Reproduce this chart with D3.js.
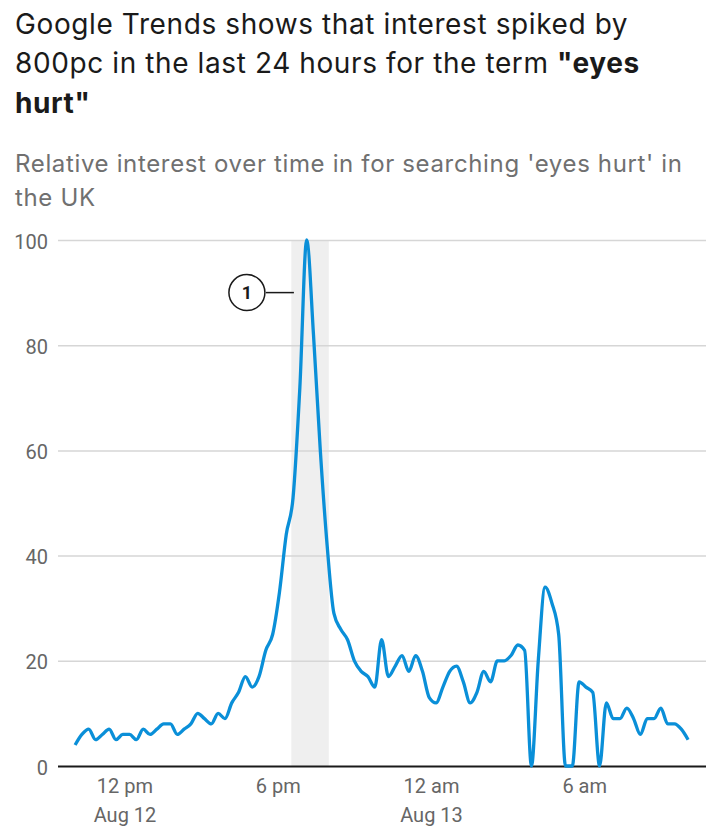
<!DOCTYPE html>
<html>
<head>
<meta charset="utf-8">
<script src="https://cdn.jsdelivr.net/npm/d3@7"></script>
<style>
  body { margin: 0; background: #fff; }
  svg { display: block; font-family: Roboto, sans-serif; }
</style>
</head>
<body>
<svg id="chart"></svg>
<script>
// Title and subtitle lines (bold parts flagged)
const titleLines = [
  [{ text: 'Google Trends shows that interest spiked by' }],
  [{ text: '800pc in the last 24 hours for the term ' }, { text: '"eyes', bold: true }],
  [{ text: 'hurt"', bold: true }]
];
const subtitleLines = [
  "Relative interest over time in for searching 'eyes hurt' in",
  'the UK'
];

// Google Trends series: one reading every 16 minutes from 10:04 am, Aug 12
const startTime = new Date(2021, 7, 12, 10, 4);
const stepMinutes = 16;
const interest = [
  4, 6, 7, 5, 6, 7, 5, 6, 6, 5,
  7, 6, 7, 8, 8, 6, 7, 8, 10, 9,
  8, 10, 9, 12, 14, 17, 15, 17, 22, 25,
  33, 44, 51, 72, 100, 82, 60, 42, 29, 26,
  24, 20, 18, 17, 15, 24, 17, 19, 21, 18,
  21, 18, 13, 12, 15, 18, 19, 16, 12, 14,
  18, 16, 20, 20, 21, 23, 22, 0, 20, 34,
  31, 25, 0, 0, 16, 15, 14, 0, 12, 9,
  9, 11, 9, 6, 9, 9, 11, 8, 8, 7,
  5
];

const yTicks = [0, 20, 40, 60, 80, 100];
const xTicks = [
  { time: new Date(2021, 7, 12, 12, 0), label: '12 pm', date: 'Aug 12' },
  { time: new Date(2021, 7, 12, 18, 0), label: '6 pm', date: '' },
  { time: new Date(2021, 7, 13, 0, 0), label: '12 am', date: 'Aug 13' },
  { time: new Date(2021, 7, 13, 6, 0), label: '6 am', date: '' }
];

// Highlighted period and its numbered marker
const highlight = [new Date(2021, 7, 12, 18, 32), new Date(2021, 7, 12, 20, 0)];
const annotations = [{ time: new Date(2021, 7, 12, 18, 38), value: 90, label: '1' }];

const data = interest.map((v, i) => ({
  time: new Date(startTime.getTime() + i * stepMinutes * 60000),
  value: v
}));

const width = 720, height = 838;
const svg = d3.select('#chart').attr('width', width).attr('height', height);

// Headline
svg.append('g').selectAll('text')
  .data(titleLines)
  .join('text')
  .attr('x', 15)
  .attr('y', (d, i) => 33.5 + i * 39.5)
  .attr('fill', '#1a1a1a')
  .style('font-family', 'Inter, sans-serif')
  .style('font-size', '28px')
  .style('letter-spacing', '0.6px')
  .selectAll('tspan')
  .data(d => d)
  .join('tspan')
  .style('font-weight', d => d.bold ? 700 : 400)
  .text(d => d.text);

svg.append('g').selectAll('text')
  .data(subtitleLines)
  .join('text')
  .attr('x', 15)
  .attr('y', (d, i) => 172 + i * 33.5)
  .attr('fill', '#707070')
  .style('font-family', 'Inter, sans-serif')
  .style('font-size', '24px')
  .style('letter-spacing', '0.65px')
  .text(d => d);

// Scales
const plot = { left: 58, right: 706, top: 240, bottom: 766 };

const x = d3.scaleTime()
  .domain(d3.extent(data, d => d.time))
  .range([75.1, 688.1]);

const y = d3.scaleLinear()
  .domain([0, 100])
  .range([plot.bottom, plot.top]);

// Highlight band
svg.append('rect')
  .attr('x', x(highlight[0]))
  .attr('y', y(100))
  .attr('width', x(highlight[1]) - x(highlight[0]))
  .attr('height', y(0) - y(100))
  .attr('fill', '#efefef');

// Y axis with gridlines
const yAxis = svg.append('g')
  .attr('transform', `translate(${plot.left},0)`)
  .call(d3.axisLeft(y).tickValues(yTicks).tickSize(-(plot.right - plot.left)).tickPadding(10));
yAxis.select('.domain').remove();
yAxis.selectAll('.tick line')
  .attr('stroke', d => d === 0 ? '#1a1a1a' : '#d6d6d6')
  .attr('stroke-width', d => d === 0 ? 2 : 1.5);
yAxis.selectAll('.tick text')
  .attr('fill', '#666')
  .attr('dy', '0.4em')
  .style('font-size', '20px')
  .style('font-family', 'Roboto, sans-serif');

// X axis labels
const xAxis = svg.append('g')
  .attr('transform', `translate(0,${plot.bottom})`)
  .call(d3.axisBottom(x).tickValues(xTicks.map(d => d.time)).tickSize(0).tickFormat(''));
xAxis.select('.domain').remove();
xAxis.selectAll('.tick text').remove();
xAxis.selectAll('.tick')
  .data(xTicks)
  .each(function(d) {
    const t = d3.select(this).append('text')
      .attr('fill', '#666')
      .attr('text-anchor', 'middle')
      .style('font-size', '20px')
      .style('font-family', 'Roboto, sans-serif');
    t.append('tspan').attr('x', 0).attr('y', 27).text(d.label);
    if (d.date) t.append('tspan').attr('x', 0).attr('y', 56).text(d.date);
  });

// Line
const line = d3.line()
  .x(d => x(d.time))
  .y(d => y(d.value))
  .curve(d3.curveMonotoneX);

svg.append('path')
  .datum(data)
  .attr('fill', 'none')
  .attr('stroke', '#0a8fd8')
  .attr('stroke-width', 3.3)
  .attr('stroke-linejoin', 'round')
  .attr('d', line);

// Annotation marker
const ann = svg.append('g').selectAll('g')
  .data(annotations)
  .join('g')
  .attr('transform', d => `translate(${x(d.time)},${y(d.value)})`);

ann.append('line')
  .attr('x1', -28).attr('x2', 0)
  .attr('stroke', '#1a1a1a')
  .attr('stroke-width', 1.5);

ann.append('circle')
  .attr('cx', -47)
  .attr('r', 18)
  .attr('fill', '#fff')
  .attr('stroke', '#1a1a1a')
  .attr('stroke-width', 1.5);

ann.append('text')
  .attr('x', -47)
  .attr('dy', '0.36em')
  .attr('text-anchor', 'middle')
  .attr('fill', '#1a1a1a')
  .style('font-size', '18px')
  .style('font-weight', 700)
  .text(d => d.label);
</script>
</body>
</html>
